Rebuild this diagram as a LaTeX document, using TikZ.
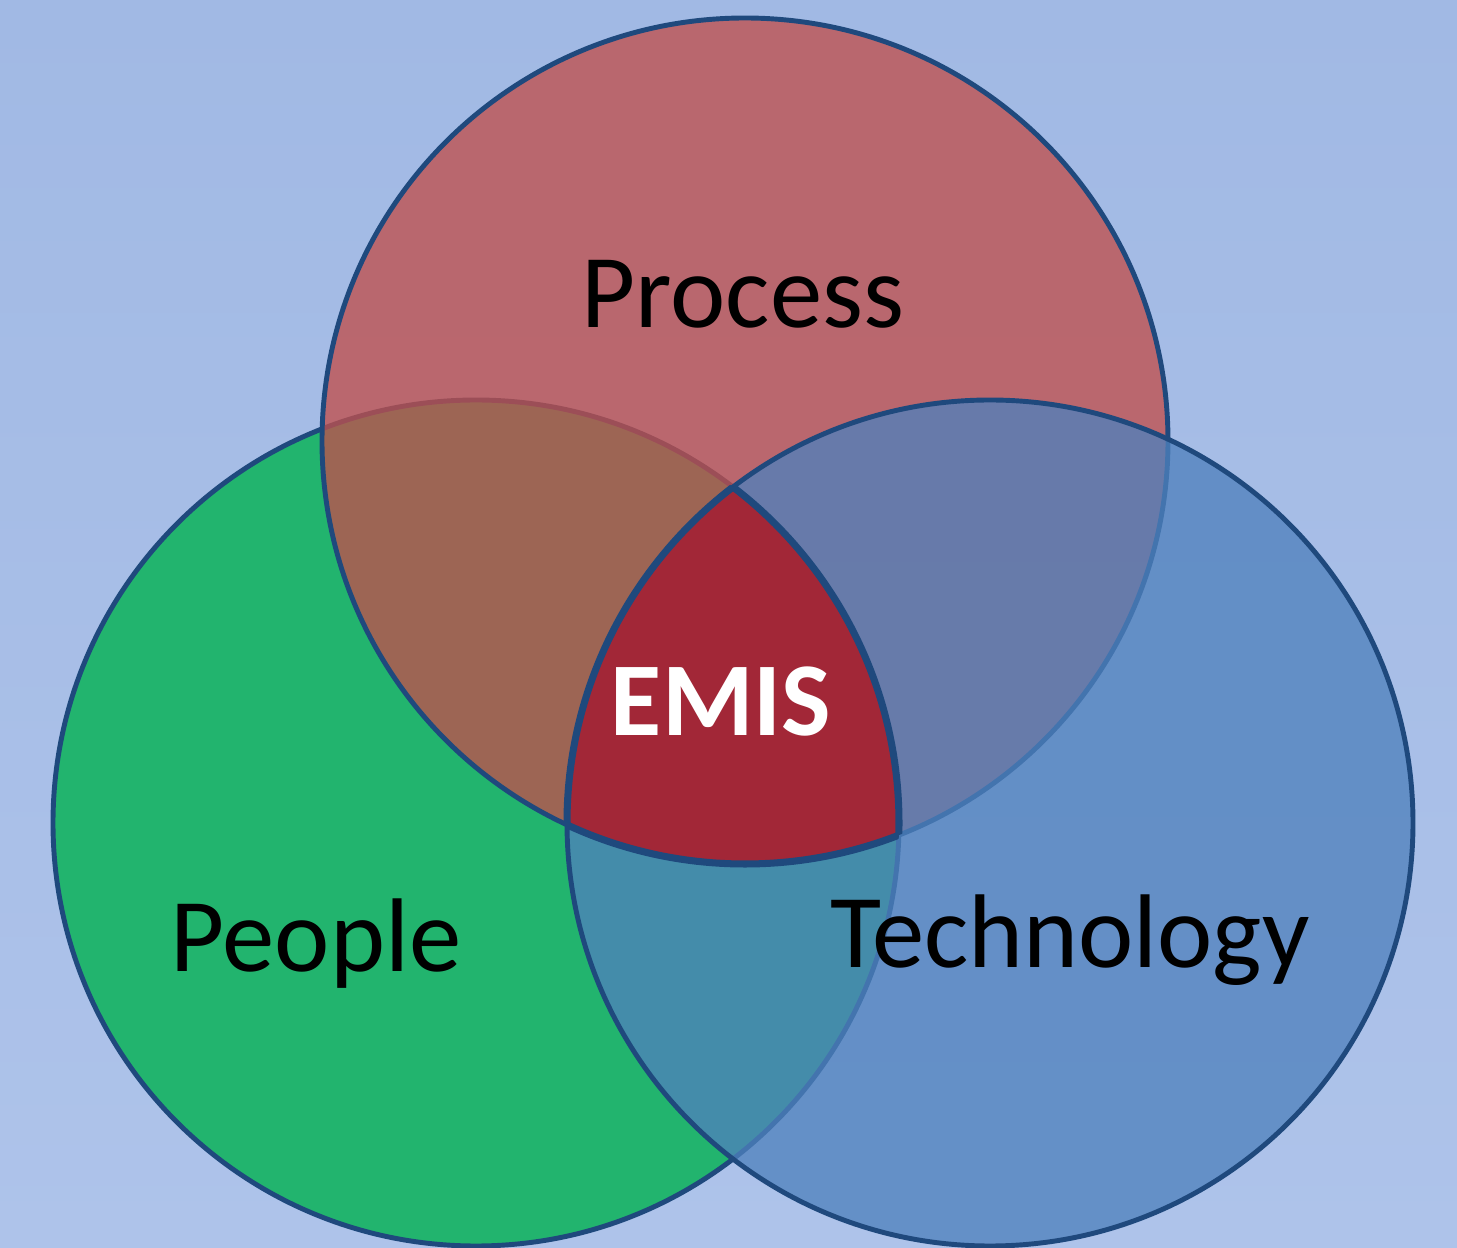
\documentclass[tikz,border=0pt]{standalone}
\usepackage{fontspec}
\setmainfont{Carlito}
\usepackage{tikz}
\usetikzlibrary{positioning}
\definecolor{fondhaut}{RGB}{161,185,228}
\definecolor{fondbas}{RGB}{174,195,234}
\definecolor{bord}{RGB}{31,73,125}
\definecolor{rouge}{RGB}{192,80,77}
\definecolor{vert}{RGB}{34,180,110}
\definecolor{bleu}{RGB}{79,129,189}
\definecolor{coeur}{RGB}{162,39,55}
\tikzset{
	cercle/.style={draw=bord,line width=1.4pt},
	etiquette/.style={anchor=base,inner sep=0pt,font=\fontsize{29.8}{34}\selectfont},
	bordcoeur/.style={draw=bord,line width=2pt}
}

\begin{document}
\begin{tikzpicture}
				\def\r{4.23};
				% Fond
				\useasboundingbox (0,0) rectangle (14.57,-12.48);
				\shade[top color=fondhaut,bottom color=fondbas] (0,0) rectangle (14.57,-12.48);
				
				%Centres des cercles
				\coordinate (process) at (7.45,-4.41);
				\coordinate (people) at (4.76,-8.23);
				\coordinate (techno) at (9.90,-8.23);
				
				%Cercles
				\filldraw [cercle,fill=vert] (people) circle (\r);
				\filldraw [cercle,fill=rouge,fill opacity=0.78] (process) circle (\r);
				\filldraw [cercle,fill=bleu,fill opacity=0.77] (techno) circle (\r);
				
				%Intersection des trois
				\begin{scope}
					\clip (process) circle (\r);
					\clip (people) circle (\r);
					\fill [coeur] (techno) circle (\r);
				\end{scope}
				% bords du coeur
				\begin{scope}
					\clip (process) circle (\r);
					\clip (people) circle (\r);
					\draw [bordcoeur] (techno) circle (\r);
				\end{scope}
				\begin{scope}
					\clip (process) circle (\r);
					\clip (techno) circle (\r);
					\draw [bordcoeur] (people) circle (\r);
				\end{scope}
				\begin{scope}
					\clip (people) circle (\r);
					\clip (techno) circle (\r);
					\draw [bordcoeur] (process) circle (\r);
				\end{scope}
				
				%Textes
				\node[etiquette] (tprocess) at (7.43,-3.28) {Process};
				\node[etiquette] (tpeople) at (3.16,-9.72) {People};
				\node[etiquette] (ttechno) at (10.70,-9.68) {Technology};
				\node[etiquette,text=white,font=\fontsize{29.8}{34}\selectfont\bfseries] (temis) at (7.21,-7.36) {EMIS};
				
\end{tikzpicture}
\end{document}
